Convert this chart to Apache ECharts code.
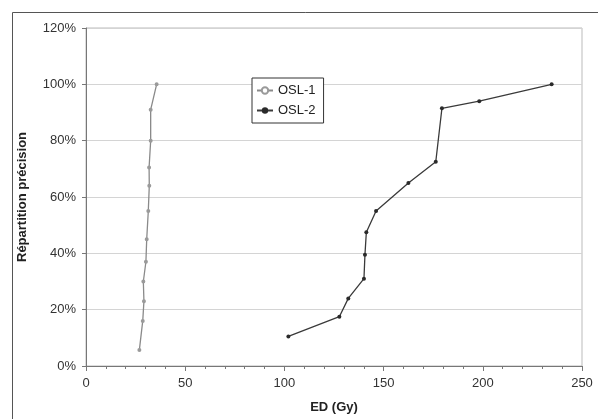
<!DOCTYPE html>
<html>
<head>
<meta charset="utf-8">
<script src="https://cdn.jsdelivr.net/npm/echarts@6/dist/echarts.min.js"></script>
<style>
  html, body { margin: 0; padding: 0; background: #fff; }
  #main { width: 598px; height: 419px; }
</style>
</head>
<body>
<div id="main"></div>
<script>
// ED (Gy) and cumulative share for each sample
const osl1Ed = [26.9, 28.6, 29.2, 28.9, 30.2, 30.6, 31.4, 31.9, 31.8, 32.6, 32.6, 35.6];
const osl1Pct = [0.057, 0.16, 0.23, 0.30, 0.37, 0.45, 0.55, 0.64, 0.705, 0.80, 0.91, 1.00];
const osl2Ed = [102, 127.7, 132.2, 140.1, 140.6, 141.3, 146.2, 162.5, 176.3, 179.4, 198.2, 234.7];
const osl2Pct = [0.105, 0.175, 0.24, 0.31, 0.395, 0.475, 0.55, 0.65, 0.725, 0.915, 0.94, 1.00];
const yTicks = ['0%', '20%', '40%', '60%', '80%', '100%', '120%'];

let myChart = echarts.init(document.getElementById('main'));

let option = {
  animation: false,
  backgroundColor: '#fff',
  textStyle: { fontFamily: 'Liberation Sans, Arial, sans-serif' },
  graphic: [{
    type: 'rect',
    shape: { x: 12.5, y: 12.5, width: 600, height: 420 },
    style: { fill: 'none', stroke: '#555', lineWidth: 1 },
    z: -1
  }],
  grid: {
    left: 86, right: 16, top: 28, bottom: 51,
    show: true, borderColor: '#bbb', borderWidth: 1
  },
  legend: {
    orient: 'vertical',
    left: 252, top: 78,
    itemWidth: 16, itemHeight: 8, itemGap: 7,
    padding: [6, 8, 6, 4],
    borderColor: '#333', borderWidth: 1,
    backgroundColor: '#fff',
    textStyle: { fontSize: 13, color: '#222', fontFamily: 'Liberation Sans, Arial, sans-serif' },
    data: ['OSL-1', 'OSL-2']
  },
  xAxis: {
    type: 'value',
    min: 0, max: 250, interval: 50,
    name: 'ED (Gy)',
    nameLocation: 'middle',
    nameGap: 35,
    nameTextStyle: { fontWeight: 'bold', fontSize: 13, color: '#222' },
    axisLine: { lineStyle: { color: '#777' } },
    axisTick: { length: 5, lineStyle: { color: '#777' } },
    minorTick: { show: true, splitNumber: 5, length: 3, lineStyle: { color: '#777' } },
    axisLabel: { fontSize: 13, color: '#333', margin: 11 },
    splitLine: { show: false }
  },
  yAxis: {
    type: 'value',
    min: 0, max: 1.2, interval: 0.2,
    name: 'Répartition précision',
    nameLocation: 'middle',
    nameGap: 57,
    nameTextStyle: { fontWeight: 'bold', fontSize: 13, color: '#222' },
    axisLine: { show: true, lineStyle: { color: '#777' } },
    axisTick: { show: true, length: 4, lineStyle: { color: '#777' } },
    axisLabel: {
      fontSize: 13, color: '#333', margin: 10,
      formatter: function (v) { return yTicks[Math.round(v / 0.2)]; }
    },
    splitLine: { lineStyle: { color: '#d4d4d4' } }
  },
  series: [{
    name: 'OSL-1',
    type: 'line',
    data: osl1Ed.map((x, i) => [x, osl1Pct[i]]),
    symbol: 'emptyCircle',
    symbolSize: 2,
    lineStyle: { color: '#8a8a8a', width: 1.3 },
    itemStyle: { color: '#9a9a9a', borderWidth: 0.8 }
  }, {
    name: 'OSL-2',
    type: 'line',
    data: osl2Ed.map((x, i) => [x, osl2Pct[i]]),
    symbol: 'circle',
    symbolSize: 4,
    lineStyle: { color: '#3a3a3a', width: 1.3 },
    itemStyle: { color: '#2a2a2a' }
  }]
};
myChart.setOption(option);
</script>
</body>
</html>
